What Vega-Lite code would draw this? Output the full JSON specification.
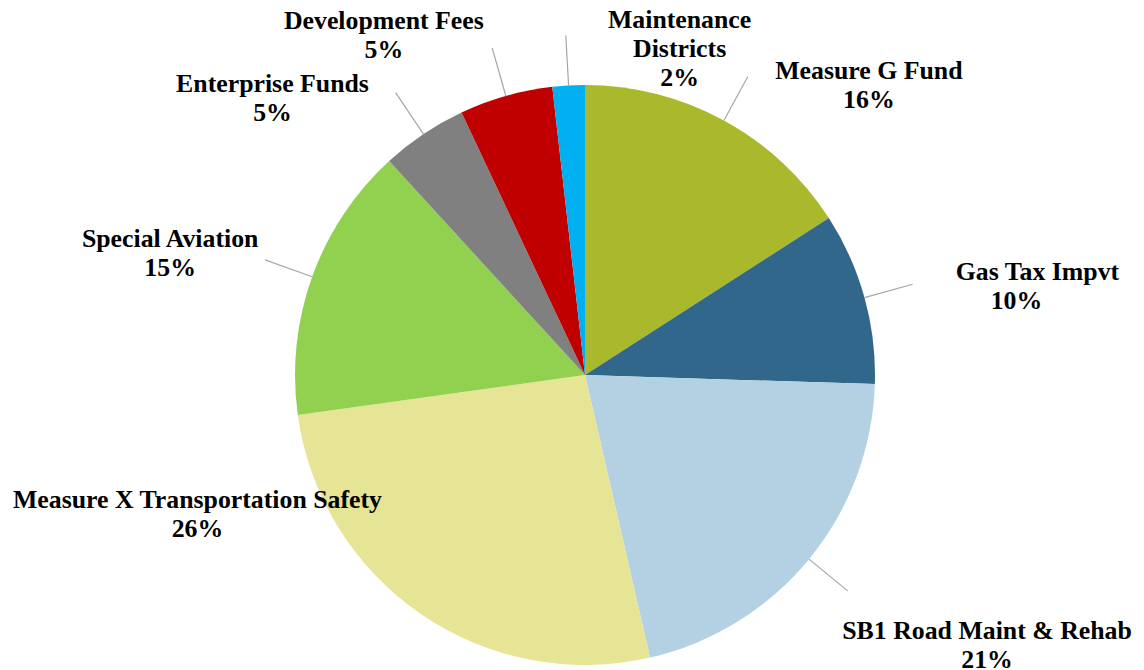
{
  "$schema": "https://vega.github.io/schema/vega-lite/v6.json",
  "width": 1118,
  "height": 590,
  "autosize": {"type": "none"},
  "padding": {"left": 26, "top": 80, "right": 0, "bottom": 0},
  "background": "white",
  "config": {
    "view": {"stroke": null},
    "text": {"font": "Liberation Serif", "fontWeight": "bold", "fontSize": 25.8, "lineHeight": 29, "align": "center", "baseline": "middle", "color": "#000000"}
  },
  "data": {
    "values": [
      {"category": "Measure G Fund", "value": 15.9},
      {"category": "Gas Tax Impvt", "value": 9.6},
      {"category": "SB1 Road Maint & Rehab", "value": 20.9},
      {"category": "Measure X Transportation Safety", "value": 26.4},
      {"category": "Special Aviation", "value": 15.4},
      {"category": "Enterprise Funds", "value": 4.8},
      {"category": "Development Fees", "value": 5.2},
      {"category": "Maintenance Districts", "value": 1.8}
    ]
  },
  "transform": [
    {"stack": "value", "groupby": [], "as": ["v0", "v1"]},
    {"calculate": "(datum.v0 + datum.v1) / 2", "as": "mid"},
    {"calculate": "format(datum.value / 100, '.0%')", "as": "pct"},
    {"calculate": "datum.category === 'Maintenance Districts' ? ['Maintenance', 'Districts', datum.pct] : [datum.category, datum.pct]", "as": "label"}
  ],
  "layer": [
    {
      "mark": {"type": "arc", "radius": 290},
      "encoding": {
        "theta": {"field": "v0", "type": "quantitative", "stack": null, "scale": {"domain": [0, 100]}},
        "theta2": {"field": "v1"},
        "color": {
          "field": "category",
          "type": "nominal",
          "legend": null,
          "scale": {
            "domain": ["Measure G Fund", "Gas Tax Impvt", "SB1 Road Maint & Rehab", "Measure X Transportation Safety", "Special Aviation", "Enterprise Funds", "Development Fees", "Maintenance Districts"],
            "range": ["#A9B92B", "#31678A", "#B3D1E2", "#E6E495", "#92D050", "#808080", "#C00000", "#00B0F0"]
          }
        }
      }
    },
    {
      "transform": [{"filter": "datum.category !== 'Measure X Transportation Safety'"}],
      "mark": {"type": "arc", "radius": 340, "radius2": 290, "filled": false, "stroke": "#A6A6A6", "strokeWidth": 1.2},
      "encoding": {
        "theta": {"field": "mid", "type": "quantitative", "stack": null},
        "theta2": {"field": "mid"}
      }
    },
    {
      "transform": [{"filter": "datum.category === 'Measure G Fund'"}],
      "mark": {"type": "text", "radius": 290, "dx": 145, "dy": -49},
      "encoding": {"theta": {"field": "mid", "type": "quantitative", "stack": null}, "text": {"field": "label"}}
    },
    {
      "transform": [{"filter": "datum.category === 'Gas Tax Impvt'"}],
      "mark": {"type": "text", "radius": 290, "dx": 173, "dy": -26},
      "encoding": {"theta": {"field": "mid", "type": "quantitative", "stack": null}, "text": {"field": "category"}}
    },
    {
      "transform": [{"filter": "datum.category === 'Gas Tax Impvt'"}],
      "mark": {"type": "text", "radius": 290, "dx": 152, "dy": 3},
      "encoding": {"theta": {"field": "mid", "type": "quantitative", "stack": null}, "text": {"field": "pct"}}
    },
    {
      "transform": [{"filter": "datum.category === 'SB1 Road Maint & Rehab'"}],
      "mark": {"type": "text", "radius": 290, "dx": 178, "dy": 72},
      "encoding": {"theta": {"field": "mid", "type": "quantitative", "stack": null}, "text": {"field": "label"}}
    },
    {
      "transform": [{"filter": "datum.category === 'Measure X Transportation Safety'"}],
      "mark": {"type": "text", "radius": 290, "dx": -223, "dy": -114},
      "encoding": {"theta": {"field": "mid", "type": "quantitative", "stack": null}, "text": {"field": "label"}}
    },
    {
      "transform": [{"filter": "datum.category === 'Special Aviation'"}],
      "mark": {"type": "text", "radius": 290, "dx": -142, "dy": -38},
      "encoding": {"theta": {"field": "mid", "type": "quantitative", "stack": null}, "text": {"field": "label"}}
    },
    {
      "transform": [{"filter": "datum.category === 'Enterprise Funds'"}],
      "mark": {"type": "text", "radius": 290, "dx": -151, "dy": -50},
      "encoding": {"theta": {"field": "mid", "type": "quantitative", "stack": null}, "text": {"field": "label"}}
    },
    {
      "transform": [{"filter": "datum.category === 'Development Fees'"}],
      "mark": {"type": "text", "radius": 290, "dx": -122, "dy": -75},
      "encoding": {"theta": {"field": "mid", "type": "quantitative", "stack": null}, "text": {"field": "label"}}
    },
    {
      "transform": [{"filter": "datum.category === 'Maintenance Districts'"}],
      "mark": {"type": "text", "radius": 290, "dx": 111, "dy": -65},
      "encoding": {"theta": {"field": "mid", "type": "quantitative", "stack": null}, "text": {"field": "label"}}
    }
  ]
}
